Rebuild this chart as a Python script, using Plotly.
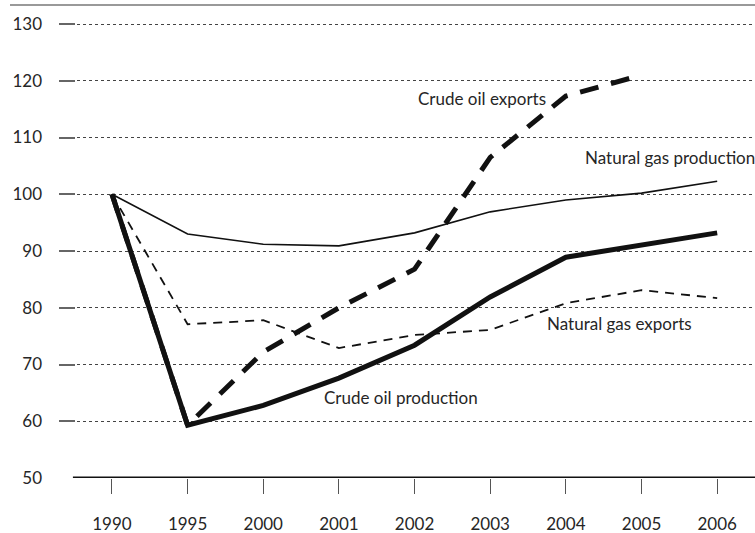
import plotly.graph_objects as go

years = ["1990", "1995", "2000", "2001", "2002", "2003", "2004", "2005", "2006"]
crude_oil_production = [100, 59.3, 62.8, 67.6, 73.4, 81.9, 88.9, 91.1, 93.2]
natural_gas_production = [100, 93.0, 91.2, 90.9, 93.2, 96.9, 99.0, 100.2, 102.3]
crude_oil_exports = [100, 59.3, 72.2, 80.0, 86.8, 106.5, 117.3, 121.0, None]
natural_gas_exports = [100, 77.1, 77.8, 72.9, 75.2, 76.1, 80.8, 83.1, 81.7]
y_ticks = [50, 60, 70, 80, 90, 100, 110, 120, 130]

# series labels: text, x (category index), y (value)
series_labels = [
    ("Crude oil exports", 4.02, 116.9),
    ("Natural gas production", 6.23, 106.5),
    ("Natural gas exports", 5.73, 77.3),
    ("Crude oil production", 2.78, 64.1),
]

FONT = "Lato"
INK = "#111111"
TXT = "#262626"

fig = go.Figure()
fig.add_trace(go.Scatter(x=years, y=natural_gas_exports, mode="lines",
                         line=dict(color=INK, width=1.8, dash="9px,7px"), name="Natural gas exports"))
fig.add_trace(go.Scatter(x=years, y=natural_gas_production, mode="lines",
                         line=dict(color=INK, width=1.6), name="Natural gas production"))
fig.add_trace(go.Scatter(x=years, y=crude_oil_exports, mode="lines",
                         line=dict(color=INK, width=5, dash="19px,13px"), name="Crude oil exports"))
fig.add_trace(go.Scatter(x=years, y=crude_oil_production, mode="lines",
                         line=dict(color=INK, width=5), name="Crude oil production"))

for text, xi, yv in series_labels:
    fig.add_annotation(x=xi, y=yv, xref="x", yref="y", text=text, showarrow=False,
                       xanchor="left", yanchor="middle",
                       font=dict(family=FONT, size=17, color=TXT))

fig.update_layout(
    width=755, height=533,
    margin=dict(l=59, r=0, t=5, b=55),
    paper_bgcolor="white", plot_bgcolor="white",
    showlegend=False,
    font=dict(family=FONT, size=17, color=TXT),
    shapes=[
        dict(type="line", xref="paper", yref="paper", x0=-0.0704, x1=1, y0=1, y1=1,
             line=dict(color="#777777", width=1.5)),
        dict(type="line", xref="paper", yref="y", x0=0.02, x1=1, y0=50, y1=50,
             line=dict(color=INK, width=3)),
    ],
)
fig.update_xaxes(type="category", categoryorder="array", categoryarray=years,
                 range=[-0.70, 8.50], showgrid=False, zeroline=False, showline=False,
                 ticks="outside", ticklen=15, tickwidth=1.2, tickcolor="#555555",
                 ticklabelstandoff=16, tickfont=dict(family=FONT, size=17, color=TXT))
fig.update_yaxes(range=[50, 133.35], tickvals=y_ticks, showgrid=True,
                 gridcolor="#444444", griddash="3px,3px", gridwidth=1,
                 zeroline=False, showline=False,
                 ticks="inside", ticklen=16, tickwidth=1.5, tickcolor="#666666",
                 ticklabelstandoff=16, tickfont=dict(family=FONT, size=17, color=TXT))

fig.write_html("out.html", config={"displayModeBar": False},
               post_script="document.body.style.margin='0';")
